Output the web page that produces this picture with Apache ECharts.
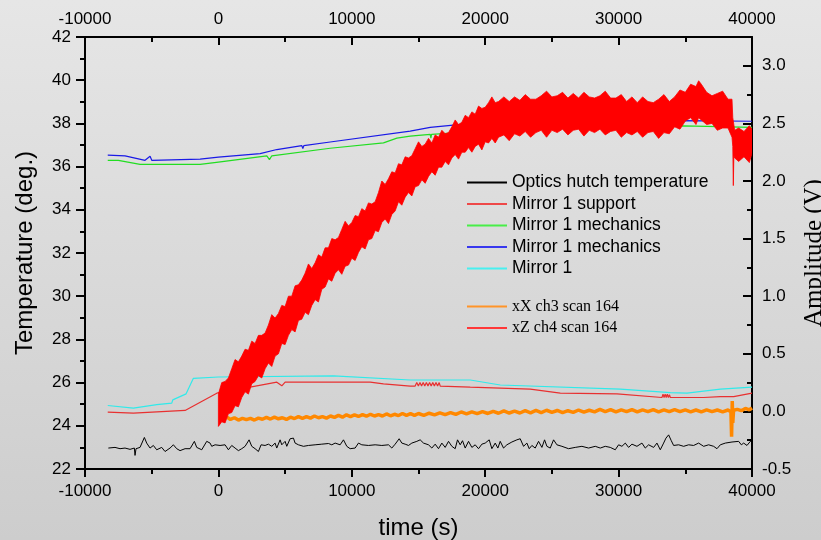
<!DOCTYPE html>
<html>
<head>
<meta charset="utf-8">
<script src="https://cdn.jsdelivr.net/npm/echarts@6/dist/echarts.min.js"></script>
<style>html,body{margin:0;padding:0;}#c{width:821px;height:540px;}</style>
</head>
<body>
<div id="c"></div>
<script>
// ---------- data (time in s) ----------
const xTicks = [-10000, 0, 10000, 20000, 30000, 40000];
const ampTicks = [-0.5, 0.0, 0.5, 1.0, 1.5, 2.0, 2.5, 3.0];

const hutchTemp = [
[-8250,22.97],[-8125,22.89],[-7750,23.00],[-7375,22.94],[-7000,22.97],[-6625,22.91],[-6300,22.97],[-6250,22.63],[-6175,22.94],[-5875,23.00],[-5550,23.46],[-5375,23.20],[-5125,22.97],[-4875,23.09],[-4625,22.89],[-4250,23.00],[-4000,22.81],[-3625,22.97],[-3375,23.12],[-3125,22.94],[-2875,22.85],[-2500,22.94],[-2125,22.94],[-1800,23.28],[-1625,23.00],[-1250,22.89],[-875,23.28],[-625,23.20],[-500,23.05],[-250,23.12],[125,23.09],[500,23.12],[750,22.89],[1000,23.09],[1250,22.97],[1500,22.85],[1750,22.94],[2000,23.05],[2300,23.35],[2500,23.05],[2750,22.94],[3000,22.81],[3200,23.12],[3500,23.09],[3750,23.15],[4000,23.05],[4250,23.20],[4375,22.97],[4625,23.35],[4750,23.12],[5000,23.28],[5125,23.05],[5375,23.40],[5625,23.43],[5750,23.20],[6000,23.12],[6375,23.05],[6750,23.09],[7250,23.12],[7750,23.15],[8250,23.18],[8500,23.12],[8750,23.20],[9125,23.12],[9375,23.35],[9625,23.05],[9875,22.94],[10250,22.97],[10500,23.20],[10750,23.12],[11250,23.09],[11750,23.12],[12250,23.09],[12750,23.12],[13000,22.97],[13250,23.15],[13550,23.40],[13750,23.20],[14000,23.15],[14250,23.09],[14500,23.20],[14875,23.28],[15125,23.35],[15375,23.20],
[15500,23.28],[15750,23.12],[16000,22.97],[16250,23.15],[16500,22.94],[16750,23.20],[17000,23.00],[17250,23.28],[17500,23.05],[17750,22.94],[17925,23.35],[18125,23.12],[18300,23.31],[18500,22.97],[18750,23.28],[19000,23.00],[19250,23.12],[19500,22.94],[19750,23.15],[20000,23.20],[20300,23.35],[20500,22.94],[20750,23.20],[20950,22.97],[21125,23.28],[21375,22.97],[21625,23.12],[22000,23.25],[22375,23.35],[22625,23.40],[22875,23.05],[23125,23.20],[23300,22.94],[23500,23.09],[23750,22.97],[24000,23.28],[24250,23.00],[24450,23.35],[24625,23.05],[24875,22.97],[25125,23.35],[25375,23.12],[25750,23.05],[26250,22.94],[26750,23.00],[27250,23.05],[27750,22.97],[28250,23.05],[28625,22.97],[29000,23.05],[29375,23.00],[29750,22.89],[30000,23.12],[30250,23.05],[30500,23.20],[30750,23.00],[31000,23.15],[31375,23.05],[31750,23.20],[32000,22.97],[32250,23.12],[32625,23.00],[32875,23.20],[33125,22.89],[33375,23.20],[33550,23.43],[33750,23.58],[33950,23.31],[34125,23.09],[34500,23.12],[34875,23.05],[35250,23.12],[35625,23.09],[36000,23.20],[36375,23.05],[36750,23.12],[37125,23.05],[37375,22.94],[37625,23.12],[38000,23.20],[38500,23.25],[39000,23.28],[39200,23.12],[39375,23.20],[39625,23.09],[39875,23.28],[40000,23.25]
];

const mirrorSupport = [
[-8295,24.63],[-6375,24.59],[-2498,24.71],[-120,25.51],[375,25.58],[2378,25.79],[4380,26.02],[4755,25.85],[5003,26.02],[11378,26.02],[12375,25.94],[14378,25.84],
[14750,25.84],[14870,26.0],[14990,25.84],[15110,26.0],[15230,25.84],[15350,26.0],[15470,25.84],[15590,26.0],[15710,25.84],[15830,26.0],[15950,25.84],[16070,26.0],[16190,25.84],[16310,26.0],[16430,25.84],[16550,26.0],[16630,25.84],
[18878,25.79],[23378,25.70],[25628,25.51],[29880,25.48],[33250,25.31],
[33330,25.46],[33410,25.31],[33490,25.46],[33570,25.31],[33650,25.46],[33730,25.31],[33810,25.44],[33880,25.31],
[36375,25.31],[37628,25.35],[38625,25.35],[40000,25.51]
];

const mirrorMechGreen = [
[-8295,36.29],[-7500,36.29],[-5873,36.10],[-1373,36.10],[0,36.21],[3630,36.50],[3825,36.32],[4005,36.50],[8378,36.85],[12375,37.10],[13380,37.32],[14378,37.41],[15878,37.49],[15930,37.32],[15975,37.49],[18375,37.59],[24375,37.82],[34875,37.89],[40000,37.82]
];

const mirrorMechBlue = [
[-8295,36.53],[-6998,36.50],[-5498,36.29],[-5123,36.48],[-4995,36.29],[-1373,36.35],[0,36.44],[3128,36.60],[4380,36.79],[6255,36.97],[6330,36.83],[6405,36.97],[8378,37.14],[14378,37.64],[15878,37.82],[18375,37.97],[34875,38.13],[40000,38.10]
];

const mirror1 = [
[-8295,24.94],[-6375,24.82],[-4620,24.98],[-3495,25.05],[-3420,25.20],[-2422,25.48],[-1875,26.20],[0,26.26],[8625,26.31],[14378,26.12],[18878,26.12],[21128,25.89],[30128,25.70],[33878,25.54],[35130,25.51],[37628,25.70],[40000,25.79]
];

const xXch3 = [
[650,-0.05],[900,-0.07],[1200,-0.055],[1500,-0.075],[1800,-0.06],[2100,-0.072],[2400,-0.06],[2700,-0.075],[3000,-0.058],[3300,-0.068],[3600,-0.052],[3900,-0.066],[4200,-0.05],[4500,-0.064],[4800,-0.055],[5100,-0.07],[5400,-0.05],[5700,-0.062],[6000,-0.045],[6300,-0.06],[6600,-0.045],[6900,-0.058],[7200,-0.04],[7500,-0.055],[7800,-0.045],[8100,-0.058],[8400,-0.04],[8700,-0.052],[9000,-0.035],[9300,-0.05],[9600,-0.03],[9900,-0.045],[10200,-0.03],[10500,-0.044],[10800,-0.028],[11100,-0.042],[11400,-0.025],[11700,-0.04],[12000,-0.028],[12300,-0.04],[12600,-0.022],[12900,-0.038],[13200,-0.025],[13500,-0.036],[13800,-0.018],[14100,-0.034],[14400,-0.02],[14700,-0.035],
[15000,-0.018],[15400,-0.034],[15800,-0.016],[16200,-0.03],[16600,-0.012],[17000,-0.028],[17400,-0.01],[17800,-0.026],[18200,-0.005],[18600,-0.022],[19000,-0.004],[19400,-0.02],[19800,-0.002],[20200,-0.018],[20600,0.0],[21000,-0.016],[21400,0.004],[21800,-0.014],[22200,0.002],[22600,-0.014],[23000,0.006],[23400,-0.012],[23800,0.008],[24200,-0.01],[24600,0.01],[25000,-0.008],[25400,0.008],[25800,-0.01],[26200,0.006],[26600,-0.008],[27000,0.012],[27400,-0.006],[27800,0.01],[28200,-0.004],[28600,0.018],[29000,-0.002],[29400,0.016],[29800,-0.004],[30200,0.014],[30600,-0.002],[31000,0.016],[31400,-0.004],[31800,0.014],[32200,-0.002],[32600,0.016],[33000,-0.004],[33400,0.014],[33800,-0.002],[34200,0.016],[34600,-0.002],[35000,0.014],[35400,-0.004],[35800,0.012],[36200,-0.004],[36600,0.014],[37000,-0.002],[37400,0.012],[37800,-0.004],[38200,0.012],[38420,-0.004],[38470,-0.22],[38520,0.09],[38560,-0.1],[38620,0.01],[38900,0.018],[39200,0.006],[39500,0.026],[39800,0.014],[40000,0.03]
];

// xZ ch4: upper and lower edges of the dense noise band
const xZch4Top = [
[0,0.15],[250,0.25],[500,0.26],[750,0.29],[1000,0.37],[1250,0.45],[1500,0.43],[1750,0.48],[2000,0.54],[2250,0.53],[2500,0.61],[2750,0.59],[3000,0.66],[3250,0.66],[3500,0.68],[3750,0.75],[4000,0.84],[4250,0.81],[4500,0.85],[4750,0.92],[5000,0.91],[5250,1.00],[5500,1.00],[5750,1.09],[6000,1.10],[6250,1.14],[6500,1.20],[6750,1.28],[7000,1.24],[7250,1.29],[7500,1.36],[7750,1.34],[8000,1.42],[8250,1.42],[8500,1.50],[8750,1.49],[9000,1.51],[9250,1.58],[9500,1.65],[9750,1.61],[10000,1.64],[10250,1.70],[10500,1.69],[10750,1.76],[11000,1.74],[11250,1.81],[11500,1.80],[11750,1.82],[12000,1.90],[12250,2.00],[12500,1.97],[12750,2.02],[13000,2.08],[13250,2.07],[13500,2.15],[13750,2.14],[14000,2.21],[14250,2.20],[14500,2.22],[14750,2.28],[15000,2.34],[15250,2.30],[15500,2.32],[15750,2.37],[16000,2.33],[16250,2.40],[16500,2.38],[16750,2.44],[17000,2.41],[17250,2.42],[17500,2.47],[17750,2.53],[18000,2.49],[18250,2.51],[18500,2.57],[18750,2.55],[19000,2.60],[19250,2.58],[19500,2.65],[19750,2.63],[20000,2.64],[20250,2.68],[20500,2.73],[20750,2.68],[21000,2.69],
[21400,2.73],[21800,2.69],[22200,2.73],[22600,2.70],[23000,2.75],[23400,2.71],[23800,2.71],[24200,2.74],[24600,2.78],[25000,2.73],[25400,2.74],[25800,2.77],[26200,2.72],[26600,2.76],[27000,2.72],[27400,2.77],[27800,2.73],[28200,2.72],[28600,2.74],[29000,2.78],[29400,2.72],[29800,2.72],[30200,2.75],[30600,2.69],[31000,2.73],[31400,2.68],[31800,2.73],[32200,2.69],[32600,2.68],[33000,2.71],[33400,2.75],[33800,2.69],[34200,2.73],[34600,2.79],[35000,2.77],[35400,2.84],[35800,2.82],[36000,2.87],[36200,2.84],[36600,2.77],[37000,2.74],[37400,2.76],[37800,2.78],[38200,2.71],[38500,2.71],[38560,2.55],[38700,2.44],[39000,2.46],[39400,2.43],[39800,2.48],[40000,2.45]
];
const xZch4Bottom = [
[0,-0.13],[250,-0.09],[500,-0.10],[750,-0.02],[1000,-0.01],[1250,0.05],[1500,0.04],[1750,0.12],[2000,0.17],[2250,0.15],[2500,0.24],[2750,0.26],[3000,0.31],[3250,0.29],[3500,0.37],[3750,0.42],[4000,0.39],[4250,0.48],[4500,0.50],[4750,0.59],[5000,0.58],[5250,0.66],[5500,0.71],[5750,0.69],[6000,0.79],[6250,0.80],[6500,0.86],[6750,0.84],[7000,0.92],[7250,0.97],[7500,0.95],[7750,1.06],[8000,1.08],[8250,1.15],[8500,1.13],[8750,1.20],[9000,1.23],[9250,1.19],[9500,1.26],[9750,1.27],[10000,1.33],[10250,1.31],[10500,1.38],[10750,1.43],[11000,1.41],[11250,1.49],[11500,1.50],[11750,1.57],[12000,1.56],[12250,1.64],[12500,1.67],[12750,1.63],[13000,1.71],[13250,1.74],[13500,1.82],[13750,1.79],[14000,1.86],[14250,1.90],[14500,1.87],[14750,1.95],[15000,1.96],[15250,2.01],[15500,1.98],[15750,2.04],[16000,2.08],[16250,2.05],[16500,2.12],[16750,2.12],[17000,2.17],[17250,2.14],[17500,2.20],[17750,2.23],[18000,2.19],[18250,2.25],[18500,2.25],[18750,2.29],[19000,2.25],[19250,2.30],[19500,2.32],[19750,2.27],[20000,2.34],[20250,2.33],[20500,2.37],[20750,2.33],[21000,2.38],
[21400,2.40],[21800,2.35],[22200,2.41],[22600,2.39],[23000,2.43],[23400,2.38],[23800,2.42],[24200,2.44],[24600,2.38],[25000,2.44],[25400,2.42],[25800,2.45],[26200,2.40],[26600,2.44],[27000,2.45],[27400,2.39],[27800,2.44],[28200,2.42],[28600,2.45],[29000,2.40],[29400,2.43],[29800,2.44],[30200,2.38],[30600,2.42],[31000,2.40],[31400,2.43],[31800,2.38],[32200,2.42],[32600,2.43],[33000,2.37],[33400,2.42],[33800,2.41],[34200,2.47],[34600,2.45],[35000,2.52],[35400,2.55],[35800,2.49],[36000,2.55],[36200,2.53],[36600,2.49],[37000,2.50],[37400,2.44],[37800,2.46],[38200,2.46],[38500,2.38],[38560,2.30],[38600,1.96],[38640,2.22],[38700,2.20],[39000,2.17],[39400,2.21],[39800,2.16],[40000,2.24]
];

// ---------- chart ----------
const SANS = 'Liberation Sans, Arial, sans-serif';
const SERIF = 'Liberation Serif, Times New Roman, serif';
const chart = echarts.init(document.getElementById('c'), null, {renderer: 'canvas'});

const lineSt = {color: '#000', width: 2};
function xAx(pos, inside) {
  return {
    type: 'value', position: pos, min: -10000, max: 40000, interval: 10000,
    axisLine: {show: true, onZero: false, lineStyle: lineSt},
    axisTick: {show: true, inside: inside, length: 8, lineStyle: lineSt},
    minorTick: {show: true, splitNumber: 2, length: 5, lineStyle: lineSt},
    splitLine: {show: false},
    axisLabel: {show: true, margin: pos === 'top' ? 9 : 14, fontSize: 17, color: '#000', fontFamily: SANS,
      customValues: xTicks, formatter: v => String(v)}
  };
}
const bottomX = xAx('bottom', false);
bottomX.name = 'time (s)';
bottomX.nameLocation = 'middle';
bottomX.nameGap = 47;
bottomX.nameTextStyle = {fontSize: 24, color: '#000', fontFamily: SANS};
const topX = xAx('top', true);

const polyPts = xZch4Top.concat(xZch4Bottom.slice().reverse());

const option = {
  animation: false,
  backgroundColor: {type: 'linear', x: 0, y: 0, x2: 0, y2: 1,
    colorStops: [{offset: 0, color: '#e6e6e6'}, {offset: 1, color: '#cdcdcd'}]},
  grid: {left: 85, top: 37, width: 667, height: 432, show: false, containLabel: false, outerBoundsMode: 'none'},
  xAxis: [bottomX, topX],
  yAxis: [
    {
      type: 'value', position: 'left', min: 22, max: 42, interval: 2,
      axisLine: {show: true, onZero: false, lineStyle: lineSt},
      axisTick: {show: true, inside: false, length: 9, lineStyle: lineSt},
      minorTick: {show: true, splitNumber: 2, length: 5, lineStyle: lineSt},
      splitLine: {show: false},
      axisLabel: {margin: 14, fontSize: 17, color: '#000', fontFamily: SANS},
      name: 'Temperature (deg.)', nameLocation: 'middle', nameRotate: 90, nameGap: 48,
      nameTextStyle: {fontSize: 24, color: '#000', fontFamily: SANS}
    },
    {
      type: 'value', position: 'right', min: -0.5, max: 3.25, interval: 0.5,
      axisLine: {show: true, onZero: false, lineStyle: lineSt},
      axisTick: {show: true, inside: true, length: 9, lineStyle: lineSt, customValues: ampTicks},
      splitLine: {show: false},
      axisLabel: {margin: 10, fontSize: 17, color: '#000', fontFamily: SANS, customValues: ampTicks,
        formatter: v => v.toFixed(1)},
      name: 'Amplitude (V)', nameLocation: 'middle', nameRotate: 90, nameGap: 49,
      nameTextStyle: {fontSize: 25, color: '#000', fontFamily: SERIF}
    },
    {
      type: 'value', position: 'right', min: -0.5, max: 3.25, interval: 0.25,
      axisLine: {show: false, onZero: false}, axisLabel: {show: false}, splitLine: {show: false},
      axisTick: {show: true, inside: true, length: 5, lineStyle: lineSt}
    }
  ],
  legend: [
    {
      orient: 'vertical', left: 467, top: 173.5, padding: 0, itemGap: 3.5,
      itemWidth: 40, itemHeight: 2, icon: 'rect',
      textStyle: {fontSize: 17.5, lineHeight: 18, color: '#000', fontFamily: SANS},
      data: ['Optics hutch temperature', 'Mirror 1 support', 'Mirror 1 mechanics', 'Mirror 1 mechanics ', 'Mirror 1'],
      selectedMode: false
    },
    {
      orient: 'vertical', left: 467, top: 297.5, padding: 0, itemGap: 3.5,
      itemWidth: 40, itemHeight: 2, icon: 'rect',
      textStyle: {fontSize: 16, lineHeight: 18, color: '#000', fontFamily: SERIF},
      data: ['xX ch3 scan 164', 'xZ ch4 scan 164'],
      selectedMode: false
    }
  ],
  series: [
    {name: 'Optics hutch temperature', type: 'line', xAxisIndex: 0, yAxisIndex: 0, data: hutchTemp,
      symbol: 'none', color: '#000', lineStyle: {width: 1, color: '#000'}, z: 3},
    {name: 'Mirror 1 support', type: 'line', xAxisIndex: 0, yAxisIndex: 0, data: mirrorSupport,
      symbol: 'none', color: '#ee4848', lineStyle: {width: 1.2, color: '#e83030'}, z: 3},
    {name: 'Mirror 1 mechanics', type: 'line', xAxisIndex: 0, yAxisIndex: 0, data: mirrorMechGreen,
      symbol: 'none', color: '#48ee48', lineStyle: {width: 1.2, color: '#22dd22'}, z: 3},
    {name: 'Mirror 1 mechanics ', type: 'line', xAxisIndex: 0, yAxisIndex: 0, data: mirrorMechBlue,
      symbol: 'none', color: '#3838ee', lineStyle: {width: 1.2, color: '#1a1ae6'}, z: 3},
    {name: 'Mirror 1', type: 'line', xAxisIndex: 0, yAxisIndex: 0, data: mirror1,
      symbol: 'none', color: '#48f0f0', lineStyle: {width: 1.2, color: '#30eaea'}, z: 3},
    {name: 'xX ch3 scan 164', type: 'line', xAxisIndex: 0, yAxisIndex: 1, data: xXch3,
      symbol: 'none', color: '#ff9428', lineStyle: {width: 3.5, color: '#ff8800'}, z: 4},
    {name: 'xZ ch4 scan 164', type: 'custom', xAxisIndex: 0, yAxisIndex: 1, data: polyPts,
      color: '#ff3838', itemStyle: {color: '#ff3838'}, z: 5, clip: true,
      renderItem: function (params, api) {
        if (params.dataIndex !== 0) return null;
        const pts = polyPts.map(p => api.coord(p));
        return {type: 'polygon', shape: {points: pts},
          style: {fill: '#ff0000', stroke: '#ff0000', lineWidth: 0.8}};
      }}
  ]
};
chart.setOption(option);
</script>
</body>
</html>
